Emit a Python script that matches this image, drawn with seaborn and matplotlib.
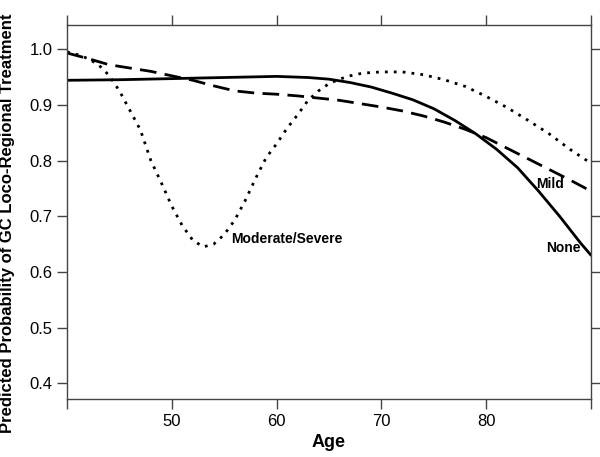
import pandas as pd
import seaborn as sns
import matplotlib.pyplot as plt

# valores
edad_none = [40, 45, 50, 55, 60, 63, 65, 67, 69, 71, 73, 75, 77, 79, 81, 83, 85, 87, 89, 90]
prob_none = [0.944, 0.945, 0.947, 0.949, 0.951, 0.949, 0.946, 0.940, 0.932, 0.921, 0.909, 0.893,
             0.872, 0.848, 0.820, 0.787, 0.745, 0.700, 0.652, 0.630]

edad_mild = [40, 42, 44, 46, 48, 50, 52, 54, 56, 58, 60, 62, 64, 66, 68, 70, 72, 74, 76, 78,
             80, 82, 84, 86, 88, 90]
prob_mild = [0.993, 0.983, 0.972, 0.966, 0.960, 0.952, 0.944, 0.934, 0.925, 0.921, 0.919, 0.916,
             0.912, 0.908, 0.902, 0.896, 0.889, 0.880, 0.869, 0.856, 0.841, 0.822, 0.803, 0.784,
             0.765, 0.745]

edad_mod = [40, 41, 42, 43, 44, 45, 46, 47, 48, 49, 50, 51, 52, 53, 54, 55, 56, 57, 58, 59, 60,
            61, 62, 63, 64, 65, 66, 67, 68, 69, 70, 72, 74, 76, 78, 80, 82, 84, 86, 88, 90]
prob_mod = [0.995, 0.990, 0.983, 0.972, 0.953, 0.925, 0.890, 0.855, 0.800, 0.760, 0.718, 0.683,
            0.657, 0.645, 0.650, 0.667, 0.693, 0.728, 0.768, 0.805, 0.830, 0.858, 0.882, 0.908,
            0.925, 0.938, 0.946, 0.952, 0.956, 0.958, 0.959, 0.959, 0.954, 0.945, 0.933, 0.915,
            0.895, 0.872, 0.848, 0.820, 0.795]

datos = pd.concat([
    pd.DataFrame({'Age': edad_none, 'prob': prob_none, 'grupo': 'None'}),
    pd.DataFrame({'Age': edad_mild, 'prob': prob_mild, 'grupo': 'Mild'}),
    pd.DataFrame({'Age': edad_mod, 'prob': prob_mod, 'grupo': 'Moderate/Severe'}),
])

sns.set_style('ticks')
plt.rcParams['font.family'] = ['Liberation Sans', 'DejaVu Sans']
plt.rcParams['text.color'] = 'black'
plt.rcParams['axes.labelcolor'] = 'black'

fig = plt.figure(figsize=(6, 4.57), dpi=100)
ax = fig.add_axes([0.1117, 0.127, 0.8733, 0.818])

sns.lineplot(data=datos, x='Age', y='prob', hue='grupo', style='grupo',
             palette={'None': 'black', 'Mild': 'black', 'Moderate/Severe': 'black'},
             dashes={'None': '', 'Mild': (6, 3), 'Moderate/Severe': (1, 2.2)},
             linewidth=2, legend=False, ax=ax)

ax.set_xlim(40, 90)
ax.set_ylim(0.372, 1.043)
ax.set_xticks([40, 50, 60, 70, 80, 90])
ax.set_xticklabels(['', '50', '60', '70', '80', ''])
ax.set_yticks([0.4, 0.5, 0.6, 0.7, 0.8, 0.9, 1.0])
ax.set_yticklabels(['0.4', '0.5', '0.6', '0.7', '0.8', '0.9', '1.0'])
ax.tick_params(axis='both', which='both', direction='out', length=7, width=1, color='#444444',
               labelcolor='black', labelsize=12, top=True, right=True,
               labeltop=False, labelright=False)

for s in ax.spines.values():
    s.set_visible(True)
    s.set_color('#444444')
    s.set_linewidth(1)

ax.text(86.1, 0.758, 'Mild', fontsize=10, fontweight='bold', ha='center', va='center')
ax.text(87.4, 0.643, 'None', fontsize=10, fontweight='bold', ha='center', va='center')
ax.text(55.7, 0.660, 'Moderate/Severe', fontsize=10, fontweight='bold', ha='left', va='center')

ax.set_xlabel('Age', fontsize=13, fontweight='bold')
ax.set_ylabel('Predicted Probability of GC Loco-Regional Treatment', fontsize=12, fontweight='bold')
ax.xaxis.set_label_coords(0.5, -0.095)
ax.yaxis.set_label_coords(-0.1, 0.47)

plt.savefig('out.png', dpi=100)
plt.close()
